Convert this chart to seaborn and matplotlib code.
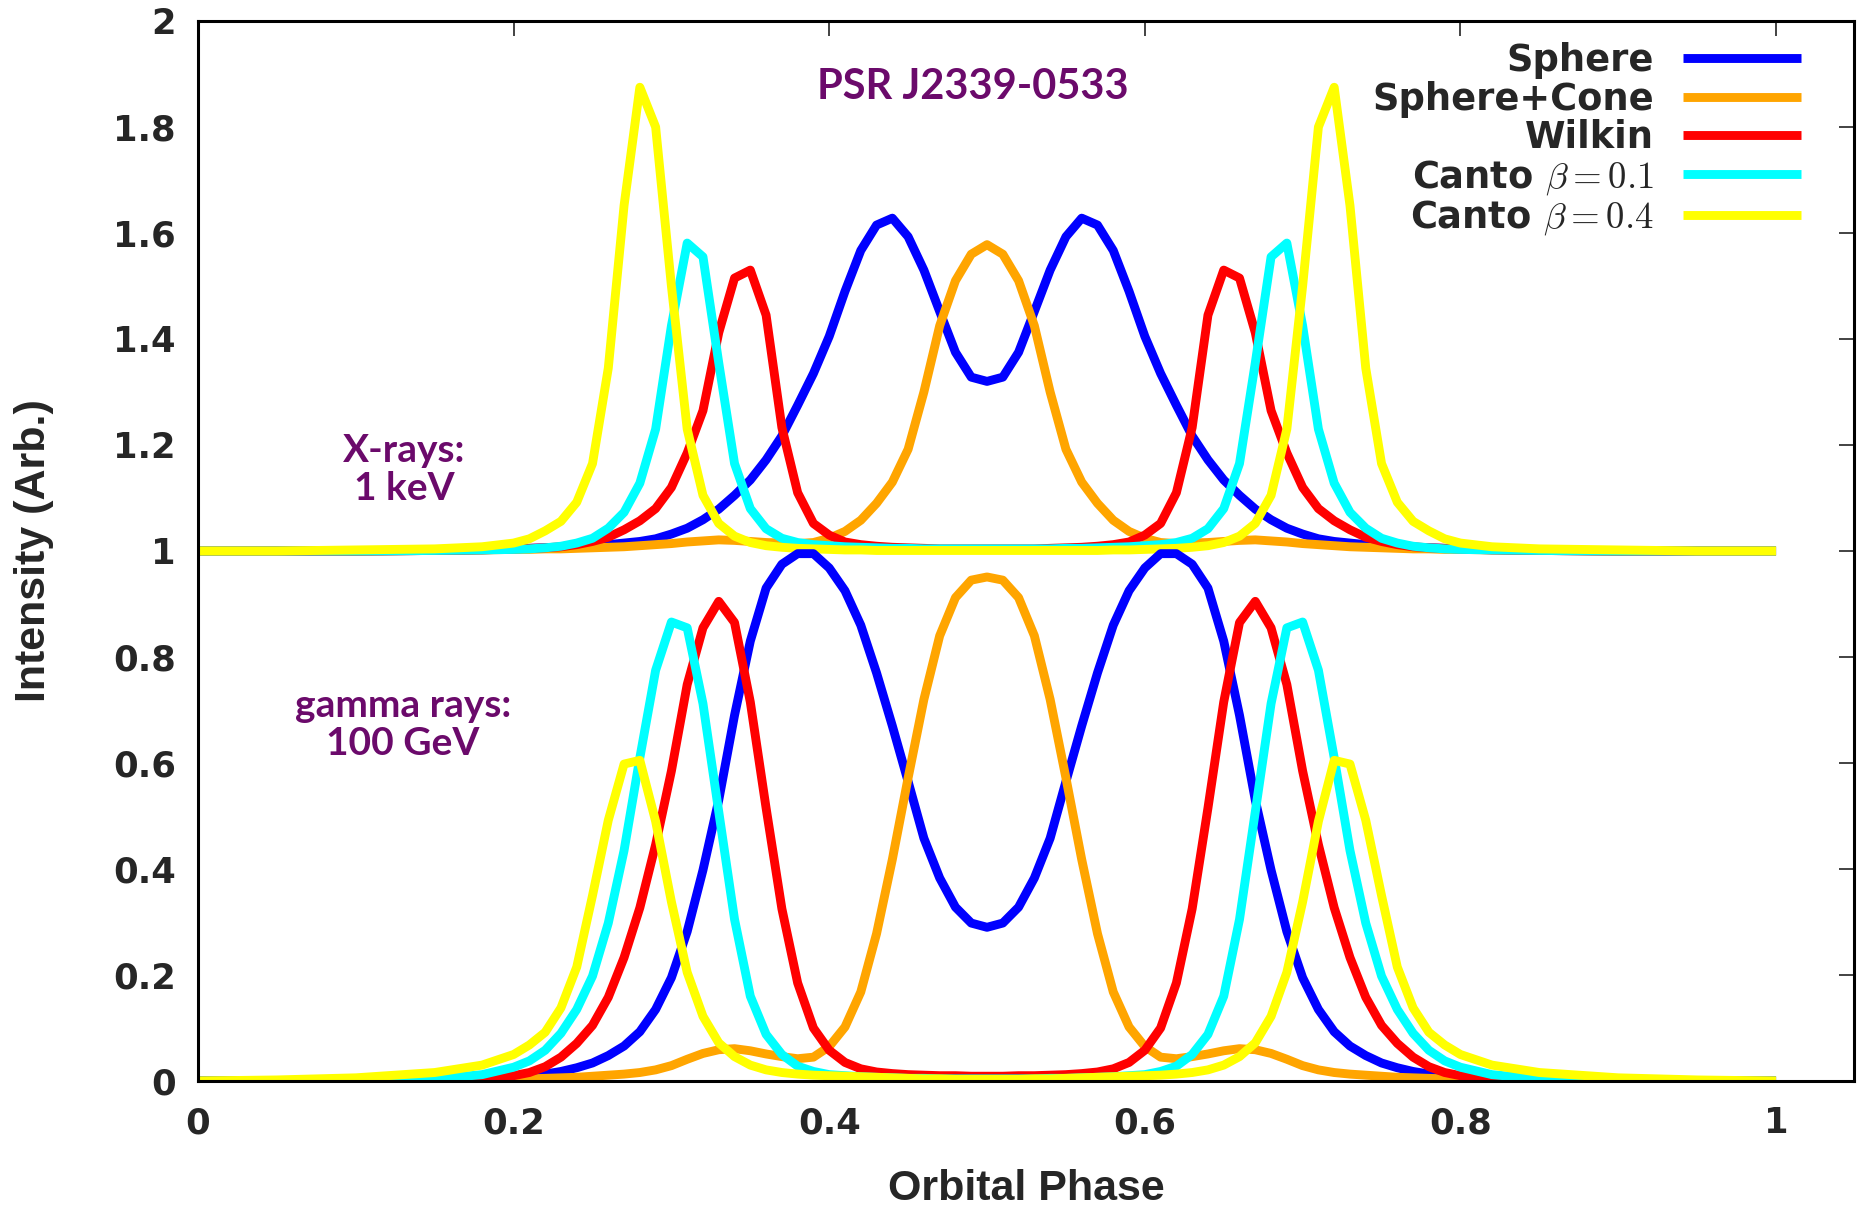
import matplotlib
matplotlib.use("Agg")
import matplotlib.pyplot as plt
import seaborn as sns
from matplotlib.ticker import FixedLocator, FormatStrFormatter

# ---------------- data ----------------
phase = [0.00, 0.05, 0.10, 0.15, 0.18, 0.20, 0.21, 0.22, 0.23, 0.24, 0.25, 0.26,
         0.27, 0.28, 0.29, 0.30, 0.31, 0.32, 0.33, 0.34, 0.35, 0.36, 0.37, 0.38,
         0.39, 0.40, 0.41, 0.42, 0.43, 0.44, 0.45, 0.46, 0.47, 0.48, 0.49, 0.50,
         0.51, 0.52, 0.53, 0.54, 0.55, 0.56, 0.57, 0.58, 0.59, 0.60, 0.61, 0.62,
         0.63, 0.64, 0.65, 0.66, 0.67, 0.68, 0.69, 0.70, 0.71, 0.72, 0.73, 0.74,
         0.75, 0.76, 0.77, 0.78, 0.79, 0.80, 0.82, 0.85, 0.90, 0.95, 1.00]

# X-rays, 1 keV
xray_sphere = [1.000, 1.000, 1.000, 1.001, 1.003, 1.004, 1.005, 1.006, 1.007, 1.008, 1.010, 1.012,
               1.015, 1.018, 1.023, 1.032, 1.043, 1.059, 1.079, 1.105, 1.134, 1.172, 1.217, 1.275,
               1.335, 1.405, 1.490, 1.567, 1.615, 1.628, 1.593, 1.530, 1.452, 1.375, 1.328, 1.320,
               1.328, 1.375, 1.452, 1.530, 1.593, 1.628, 1.615, 1.567, 1.490, 1.405, 1.335, 1.275,
               1.217, 1.172, 1.134, 1.105, 1.079, 1.059, 1.043, 1.032, 1.023, 1.018, 1.015, 1.012,
               1.010, 1.008, 1.007, 1.006, 1.005, 1.004, 1.003, 1.001, 1.000, 1.000, 1.000]
xray_cone = [1.000, 1.000, 1.000, 1.001, 1.002, 1.003, 1.003, 1.004, 1.004, 1.005, 1.006, 1.007,
             1.008, 1.010, 1.012, 1.014, 1.017, 1.019, 1.021, 1.020, 1.018, 1.016, 1.015, 1.014,
             1.016, 1.024, 1.037, 1.058, 1.090, 1.130, 1.192, 1.300, 1.425, 1.510, 1.560, 1.578,
             1.560, 1.510, 1.425, 1.300, 1.192, 1.130, 1.090, 1.058, 1.037, 1.024, 1.016, 1.014,
             1.015, 1.016, 1.018, 1.020, 1.021, 1.019, 1.017, 1.014, 1.012, 1.010, 1.008, 1.007,
             1.006, 1.005, 1.004, 1.004, 1.003, 1.003, 1.002, 1.001, 1.000, 1.000, 1.000]
xray_wilkin = [1.000, 1.000, 1.000, 1.001, 1.002, 1.004, 1.005, 1.006, 1.008, 1.012, 1.018, 1.026,
               1.040, 1.057, 1.080, 1.120, 1.185, 1.265, 1.412, 1.515, 1.530, 1.445, 1.233, 1.110,
               1.052, 1.030, 1.017, 1.012, 1.009, 1.007, 1.006, 1.005, 1.004, 1.004, 1.004, 1.004,
               1.004, 1.004, 1.004, 1.005, 1.006, 1.007, 1.009, 1.012, 1.017, 1.030, 1.052, 1.110,
               1.233, 1.445, 1.530, 1.515, 1.412, 1.265, 1.185, 1.120, 1.080, 1.057, 1.040, 1.026,
               1.018, 1.012, 1.008, 1.006, 1.005, 1.004, 1.002, 1.001, 1.000, 1.000, 1.000]
xray_canto01 = [1.000, 1.000, 1.000, 1.001, 1.002, 1.003, 1.004, 1.006, 1.009, 1.015, 1.024, 1.043,
                1.073, 1.128, 1.230, 1.425, 1.581, 1.555, 1.355, 1.165, 1.080, 1.042, 1.024, 1.016,
                1.012, 1.010, 1.008, 1.007, 1.006, 1.005, 1.005, 1.004, 1.004, 1.004, 1.004, 1.004,
                1.004, 1.004, 1.004, 1.004, 1.005, 1.005, 1.006, 1.007, 1.008, 1.010, 1.012, 1.016,
                1.024, 1.042, 1.080, 1.165, 1.355, 1.555, 1.581, 1.425, 1.230, 1.128, 1.073, 1.043,
                1.024, 1.015, 1.009, 1.006, 1.004, 1.003, 1.002, 1.001, 1.000, 1.000, 1.000]
xray_canto04 = [1.000, 1.000, 1.002, 1.004, 1.008, 1.015, 1.023, 1.038, 1.056, 1.092, 1.165, 1.345,
                1.652, 1.875, 1.800, 1.500, 1.230, 1.105, 1.052, 1.028, 1.016, 1.010, 1.007, 1.005,
                1.004, 1.003, 1.002, 1.002, 1.001, 1.001, 1.001, 1.001, 1.001, 1.001, 1.001, 1.001,
                1.001, 1.001, 1.001, 1.001, 1.001, 1.001, 1.001, 1.002, 1.002, 1.003, 1.004, 1.005,
                1.007, 1.010, 1.016, 1.028, 1.052, 1.105, 1.230, 1.500, 1.800, 1.875, 1.652, 1.345,
                1.165, 1.092, 1.056, 1.038, 1.023, 1.015, 1.008, 1.004, 1.002, 1.000, 1.000]

# gamma rays, 100 GeV
gamma_sphere = [0.000, 0.000, 0.001, 0.002, 0.004, 0.007, 0.009, 0.013, 0.018, 0.025, 0.034, 0.048,
                0.066, 0.093, 0.135, 0.195, 0.282, 0.398, 0.530, 0.690, 0.830, 0.930, 0.975, 0.995,
                0.995, 0.968, 0.925, 0.860, 0.770, 0.670, 0.565, 0.458, 0.383, 0.328, 0.298, 0.290,
                0.298, 0.328, 0.383, 0.458, 0.565, 0.670, 0.770, 0.860, 0.925, 0.968, 0.995, 0.995,
                0.975, 0.930, 0.830, 0.690, 0.530, 0.398, 0.282, 0.195, 0.135, 0.093, 0.066, 0.048,
                0.034, 0.025, 0.018, 0.013, 0.009, 0.007, 0.004, 0.002, 0.001, 0.000, 0.000]
gamma_cone = [0.000, 0.000, 0.000, 0.001, 0.002, 0.003, 0.004, 0.005, 0.006, 0.007, 0.009, 0.011,
              0.013, 0.016, 0.021, 0.029, 0.041, 0.052, 0.059, 0.061, 0.057, 0.051, 0.046, 0.042,
              0.045, 0.065, 0.102, 0.168, 0.278, 0.418, 0.572, 0.720, 0.840, 0.912, 0.945, 0.951,
              0.945, 0.912, 0.840, 0.720, 0.572, 0.418, 0.278, 0.168, 0.102, 0.065, 0.045, 0.042,
              0.046, 0.051, 0.057, 0.061, 0.059, 0.052, 0.041, 0.029, 0.021, 0.016, 0.013, 0.011,
              0.009, 0.007, 0.006, 0.005, 0.004, 0.003, 0.002, 0.001, 0.000, 0.000, 0.000]
gamma_wilkin = [0.000, 0.000, 0.001, 0.002, 0.005, 0.010, 0.016, 0.027, 0.045, 0.071, 0.105, 0.158,
                0.233, 0.327, 0.446, 0.585, 0.748, 0.855, 0.905, 0.865, 0.715, 0.515, 0.325, 0.185,
                0.100, 0.058, 0.035, 0.023, 0.017, 0.014, 0.012, 0.011, 0.010, 0.010, 0.009, 0.009,
                0.009, 0.010, 0.010, 0.011, 0.012, 0.014, 0.017, 0.023, 0.035, 0.058, 0.100, 0.185,
                0.325, 0.515, 0.715, 0.865, 0.905, 0.855, 0.748, 0.585, 0.446, 0.327, 0.233, 0.158,
                0.105, 0.071, 0.045, 0.027, 0.016, 0.010, 0.005, 0.002, 0.001, 0.000, 0.000]
gamma_canto01 = [0.000, 0.000, 0.001, 0.004, 0.012, 0.026, 0.038, 0.058, 0.090, 0.135, 0.198, 0.298,
                 0.435, 0.610, 0.775, 0.866, 0.855, 0.712, 0.508, 0.305, 0.160, 0.088, 0.050, 0.028,
                 0.018, 0.012, 0.010, 0.008, 0.007, 0.006, 0.005, 0.005, 0.004, 0.004, 0.004, 0.004,
                 0.004, 0.004, 0.004, 0.005, 0.005, 0.006, 0.007, 0.008, 0.010, 0.012, 0.018, 0.028,
                 0.050, 0.088, 0.160, 0.305, 0.508, 0.712, 0.855, 0.866, 0.775, 0.610, 0.435, 0.298,
                 0.198, 0.135, 0.090, 0.058, 0.038, 0.026, 0.012, 0.004, 0.001, 0.000, 0.000]
gamma_canto04 = [0.000, 0.002, 0.006, 0.016, 0.030, 0.050, 0.068, 0.092, 0.138, 0.215, 0.350, 0.492,
                 0.598, 0.605, 0.490, 0.338, 0.205, 0.122, 0.072, 0.046, 0.030, 0.021, 0.016, 0.013,
                 0.011, 0.010, 0.009, 0.008, 0.007, 0.006, 0.005, 0.004, 0.004, 0.003, 0.003, 0.003,
                 0.003, 0.003, 0.004, 0.004, 0.005, 0.006, 0.007, 0.008, 0.009, 0.010, 0.011, 0.013,
                 0.016, 0.021, 0.030, 0.046, 0.072, 0.122, 0.205, 0.338, 0.490, 0.605, 0.598, 0.492,
                 0.350, 0.215, 0.138, 0.092, 0.068, 0.050, 0.030, 0.016, 0.006, 0.002, 0.000]

model_names = ["Sphere", "Sphere+Cone", "Wilkin",
               r"Canto $\mathrm{\beta} = 0.1$", r"Canto $\mathrm{\beta} = 0.4$"]
model_colors = ["#0000ff", "#ffa500", "#ff0000", "#00ffff", "#ffff00"]
xray_series = [xray_sphere, xray_cone, xray_wilkin, xray_canto01, xray_canto04]
gamma_series = [gamma_sphere, gamma_cone, gamma_wilkin, gamma_canto01, gamma_canto04]

x_ticks = [0, 0.2, 0.4, 0.6, 0.8, 1.0]
y_ticks = [0, 0.2, 0.4, 0.6, 0.8, 1.0, 1.2, 1.4, 1.6, 1.8, 2.0]

for s in xray_series + gamma_series:
    assert len(s) == len(phase), len(s)

# ---------------- style ----------------
sns.set_style("white")
plt.rcParams["font.family"] = ["DejaVu Sans"]
plt.rcParams["mathtext.fontset"] = "cm"

W, H = 1864, 1211
fig = plt.figure(figsize=(W / 100, H / 100), dpi=100)
ax = fig.add_axes([198 / W, 1 - 1081 / H, (1854 - 198) / W, (1081 - 21) / H])

LW = 6.4
for name, col, ys in zip(model_names, model_colors, xray_series):
    sns.lineplot(x=phase, y=ys, ax=ax, color=col, linewidth=LW, label=name,
                 estimator=None, sort=False, solid_capstyle="butt")
for col, ys in zip(model_colors, gamma_series):
    sns.lineplot(x=phase, y=ys, ax=ax, color=col, linewidth=LW,
                 estimator=None, sort=False, solid_capstyle="butt")

ax.set_xlim(0, 1.0494)
ax.set_ylim(0, 2)
ax.xaxis.set_major_locator(FixedLocator(x_ticks))
ax.yaxis.set_major_locator(FixedLocator(y_ticks))
ax.xaxis.set_major_formatter(FormatStrFormatter("%g"))
ax.yaxis.set_major_formatter(FormatStrFormatter("%g"))
ax.tick_params(direction="in", length=11, width=1.2, color="#222222",
               top=True, right=True, labelsize=25.5, pad=16)
ax.tick_params(axis="x", pad=18)
for lab in ax.get_xticklabels() + ax.get_yticklabels():
    lab.set_fontweight("bold")
for sp in ax.spines.values():
    sp.set_visible(True)
    sp.set_color("black")
    sp.set_linewidth(2.2)

ax.set_xlabel("Orbital Phase", family=["Liberation Sans", "DejaVu Sans"],
              fontweight="bold", fontsize=31)
ax.set_ylabel("Intensity (Arb.)", family=["Liberation Sans", "DejaVu Sans"],
              fontweight="bold", fontsize=31)
ax.xaxis.set_label_coords(0.5, -0.083)
ax.yaxis.set_label_coords(-0.087, 0.5)

leg = ax.legend(loc="upper right", bbox_to_anchor=(0.968, 0.980), frameon=False,
                markerfirst=False, prop={"family": "DejaVu Sans", "weight": "bold", "size": 26.5},
                handlelength=3.2, handletextpad=0.8, labelspacing=0.04,
                borderpad=0, borderaxespad=0)
for line in leg.get_lines():
    line.set_linewidth(LW)
    line.set_solid_capstyle("butt")

purple = "#6b0a6b"
ax.text(0.491, 1.876, "PSR J2339-0533", ha="center", va="center", color=purple,
        family=["Lato", "DejaVu Sans"], fontweight="bold", fontsize=30)
ax.text(0.1305, 1.153, "X-rays:\n1 keV", ha="center", va="center", color=purple,
        family=["Lato", "DejaVu Sans"], fontweight="bold", fontsize=28, linespacing=1.1)
ax.text(0.1297, 0.673, "gamma rays:\n100 GeV", ha="center", va="center", color=purple,
        family=["Lato", "DejaVu Sans"], fontweight="bold", fontsize=28, linespacing=1.1)

fig.savefig("out.png", dpi=100)
